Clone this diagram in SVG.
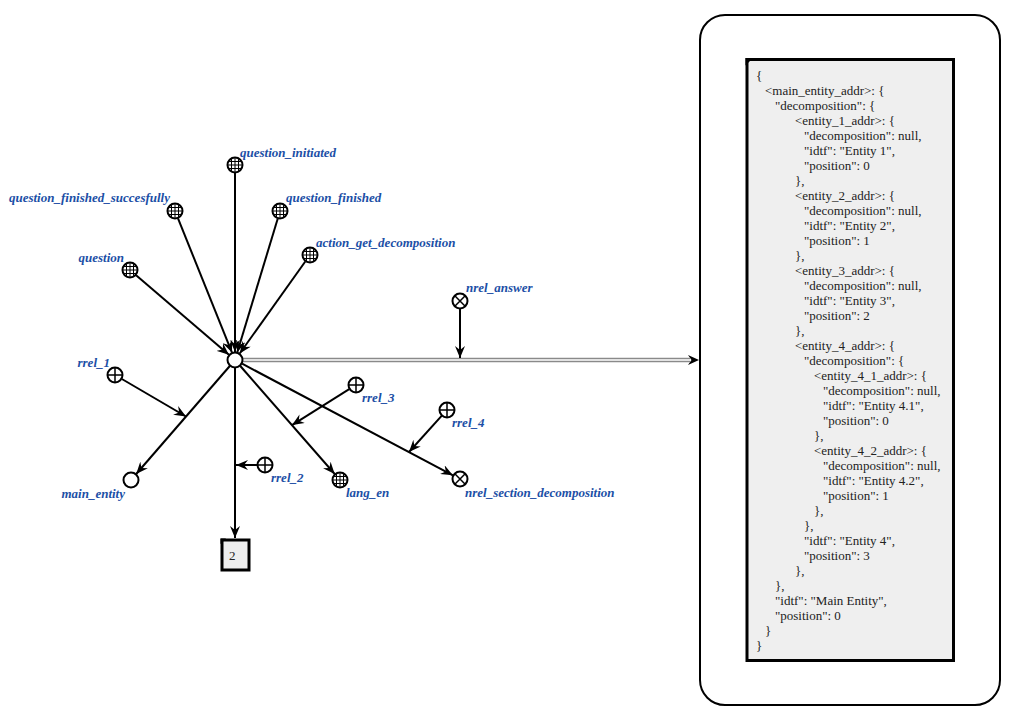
<svg xmlns="http://www.w3.org/2000/svg" xmlns:xlink="http://www.w3.org/1999/xlink" width="1016" height="721" viewBox="0 0 1016 721">
<style>
.lbl{font-family:"Liberation Serif","Times New Roman",serif;font-size:13px;font-weight:bold;font-style:italic;fill:#1c4fa6}
.js{font-family:"Liberation Serif","Times New Roman",serif;font-size:13px;fill:#222}
.arc{stroke:#000;stroke-width:2;fill:none;marker-end:url(#ah)}
.nd{fill:#fff;stroke:#000;stroke-width:2}
.gl{stroke:#000;stroke-width:1}
</style>
<defs>
<marker id="ah" viewBox="0 0 12 10" refX="12" refY="5" markerWidth="12" markerHeight="10" markerUnits="userSpaceOnUse" orient="auto">
<path d="M0,0 L12,5 L0,10 L4,5 Z" fill="#000"/>
</marker>
<clipPath id="cc"><circle cx="0" cy="0" r="7"/></clipPath>
<g id="gridNode">
<circle cx="0" cy="0" r="7.5" fill="#fff"/>
<g clip-path="url(#cc)" class="gl">
<path d="M-3.5,-8V8M0,-8V8M3.5,-8V8M-8,-3.5H8M-8,0H8M-8,3.5H8"/>
</g>
<circle cx="0" cy="0" r="7.5" fill="none" stroke="#000" stroke-width="2"/>
</g>
<g id="plusNode">
<circle cx="0" cy="0" r="7.5" class="nd"/>
<path d="M0,-7.5V7.5M-7.5,0H7.5" stroke="#000" stroke-width="1.5"/>
</g>
<g id="xNode">
<circle cx="0" cy="0" r="7.5" class="nd"/>
<path d="M-5.2,-5.2L5.2,5.2M-5.2,5.2L5.2,-5.2" stroke="#000" stroke-width="1.5"/>
</g>
</defs>
<rect width="1016" height="721" fill="#fff"/>

<g id="contour">
<rect x="700" y="15" width="300" height="690" rx="25" ry="25" fill="#fff" stroke="#000" stroke-width="2"/>
</g>

<g id="connectors">
<path class="arc" d="M235,173 L235,352"/>
<path class="arc" d="M178,218.4 L232,352.6"/>
<path class="arc" d="M277.7,218.7 L237.3,352.3"/>
<path class="arc" d="M305.3,261.5 L239.7,353.5"/>
<path class="arc" d="M136.1,275.2 L228.9,354.8"/>
<path class="arc" d="M229.8,366 L136.2,474"/>
<path class="arc" d="M121.9,379 L186,416.5"/>
<path class="arc" d="M235,368 L235,538"/>
<path class="arc" d="M257,465 L236,465"/>
<path class="arc" d="M240.3,366 L334.7,474"/>
<path class="arc" d="M349.2,389.2 L292,425.1"/>
<path class="arc" d="M242.1,363.7 L452.9,475.3"/>
<path class="arc" d="M441.6,415.9 L409,452"/>
<g id="commonArc">
<path d="M243,360 L690,360" stroke="#8a8a8a" stroke-width="4.5" fill="none"/>
<path d="M243,360 L690,360" stroke="#fff" stroke-width="1.5" fill="none"/>
<path d="M688,355 L699,360 L688,365 L691.5,360 Z" fill="#000"/>
</g>
<path class="arc" d="M460,309 L460,358"/>
</g>

<g id="n_center"><circle cx="235" cy="360" r="7.5" class="nd"/></g>
<g id="n_question_initiated"><use xlink:href="#gridNode" href="#gridNode" x="235" y="165"/><text class="lbl" x="240" y="157">question_initiated</text></g>
<g id="n_question_finished_succesfully"><use xlink:href="#gridNode" href="#gridNode" x="175" y="211"/><text class="lbl" x="170" y="202" text-anchor="end">question_finished_succesfully</text></g>
<g id="n_question_finished"><use xlink:href="#gridNode" href="#gridNode" x="280" y="211"/><text class="lbl" x="286" y="202">question_finished</text></g>
<g id="n_action_get_decomposition"><use xlink:href="#gridNode" href="#gridNode" x="310" y="255"/><text class="lbl" x="316" y="247">action_get_decomposition</text></g>
<g id="n_question"><use xlink:href="#gridNode" href="#gridNode" x="130" y="270"/><text class="lbl" x="124" y="262" text-anchor="end">question</text></g>
<g id="n_rrel_1"><use xlink:href="#plusNode" href="#plusNode" x="115" y="375"/><text class="lbl" x="110" y="367" text-anchor="end">rrel_1</text></g>
<g id="n_main_entity"><circle cx="131" cy="480" r="7.5" class="nd"/><text class="lbl" x="125" y="498" text-anchor="end">main_entity</text></g>
<g id="n_rrel_2"><use xlink:href="#plusNode" href="#plusNode" x="265" y="465"/><text class="lbl" x="271" y="482">rrel_2</text></g>
<g id="n_lang_en"><use xlink:href="#gridNode" href="#gridNode" x="340" y="480"/><text class="lbl" x="346" y="497">lang_en</text></g>
<g id="n_rrel_3"><use xlink:href="#plusNode" href="#plusNode" x="356" y="385"/><text class="lbl" x="362" y="402">rrel_3</text></g>
<g id="n_rrel_4"><use xlink:href="#plusNode" href="#plusNode" x="447" y="410"/><text class="lbl" x="452" y="427">rrel_4</text></g>
<g id="n_nrel_section_decomposition"><use xlink:href="#xNode" href="#xNode" x="460" y="479"/><text class="lbl" x="465" y="497">nrel_section_decomposition</text></g>
<g id="n_nrel_answer"><use xlink:href="#xNode" href="#xNode" x="460" y="301"/><text class="lbl" x="466" y="292">nrel_answer</text></g>

<g id="n_link2">
<rect x="222" y="540" width="27" height="30" fill="#eee" stroke="#000" stroke-width="3"/>
<path d="M220.5,538.5 L226,538.5 L220.5,544 Z" fill="#000"/>
<text class="js" x="229" y="560">2</text>
</g>

<g id="n_json">
<rect x="747" y="59.5" width="206.5" height="601" fill="#efefef" stroke="#000" stroke-width="3"/>
<path d="M745.5,58 L753,58 L745.5,65.5 Z" fill="#000"/>
<text class="js" x="756" y="80">{</text>
<text class="js" x="765" y="95">&lt;main_entity_addr&gt;: {</text>
<text class="js" x="775" y="110">"decomposition": {</text>
<text class="js" x="795" y="125">&lt;entity_1_addr&gt;: {</text>
<text class="js" x="804" y="140">"decomposition": null,</text>
<text class="js" x="804" y="155">"idtf": "Entity 1",</text>
<text class="js" x="804" y="170">"position": 0</text>
<text class="js" x="795" y="185">},</text>
<text class="js" x="795" y="200">&lt;entity_2_addr&gt;: {</text>
<text class="js" x="804" y="215">"decomposition": null,</text>
<text class="js" x="804" y="230">"idtf": "Entity 2",</text>
<text class="js" x="804" y="245">"position": 1</text>
<text class="js" x="795" y="260">},</text>
<text class="js" x="795" y="275">&lt;entity_3_addr&gt;: {</text>
<text class="js" x="804" y="290">"decomposition": null,</text>
<text class="js" x="804" y="305">"idtf": "Entity 3",</text>
<text class="js" x="804" y="320">"position": 2</text>
<text class="js" x="795" y="335">},</text>
<text class="js" x="795" y="350">&lt;entity_4_addr&gt;: {</text>
<text class="js" x="804" y="365">"decomposition": {</text>
<text class="js" x="814" y="380">&lt;entity_4_1_addr&gt;: {</text>
<text class="js" x="823" y="395">"decomposition": null,</text>
<text class="js" x="823" y="410">"idtf": "Entity 4.1",</text>
<text class="js" x="823" y="425">"position": 0</text>
<text class="js" x="814" y="440">},</text>
<text class="js" x="814" y="455">&lt;entity_4_2_addr&gt;: {</text>
<text class="js" x="823" y="470">"decomposition": null,</text>
<text class="js" x="823" y="485">"idtf": "Entity 4.2",</text>
<text class="js" x="823" y="500">"position": 1</text>
<text class="js" x="814" y="515">},</text>
<text class="js" x="804" y="530">},</text>
<text class="js" x="804" y="545">"idtf": "Entity 4",</text>
<text class="js" x="804" y="560">"position": 3</text>
<text class="js" x="795" y="575">},</text>
<text class="js" x="775" y="590">},</text>
<text class="js" x="775" y="605">"idtf": "Main Entity",</text>
<text class="js" x="775" y="620">"position": 0</text>
<text class="js" x="765" y="635">}</text>
<text class="js" x="756" y="650">}</text>
</g>
</svg>
